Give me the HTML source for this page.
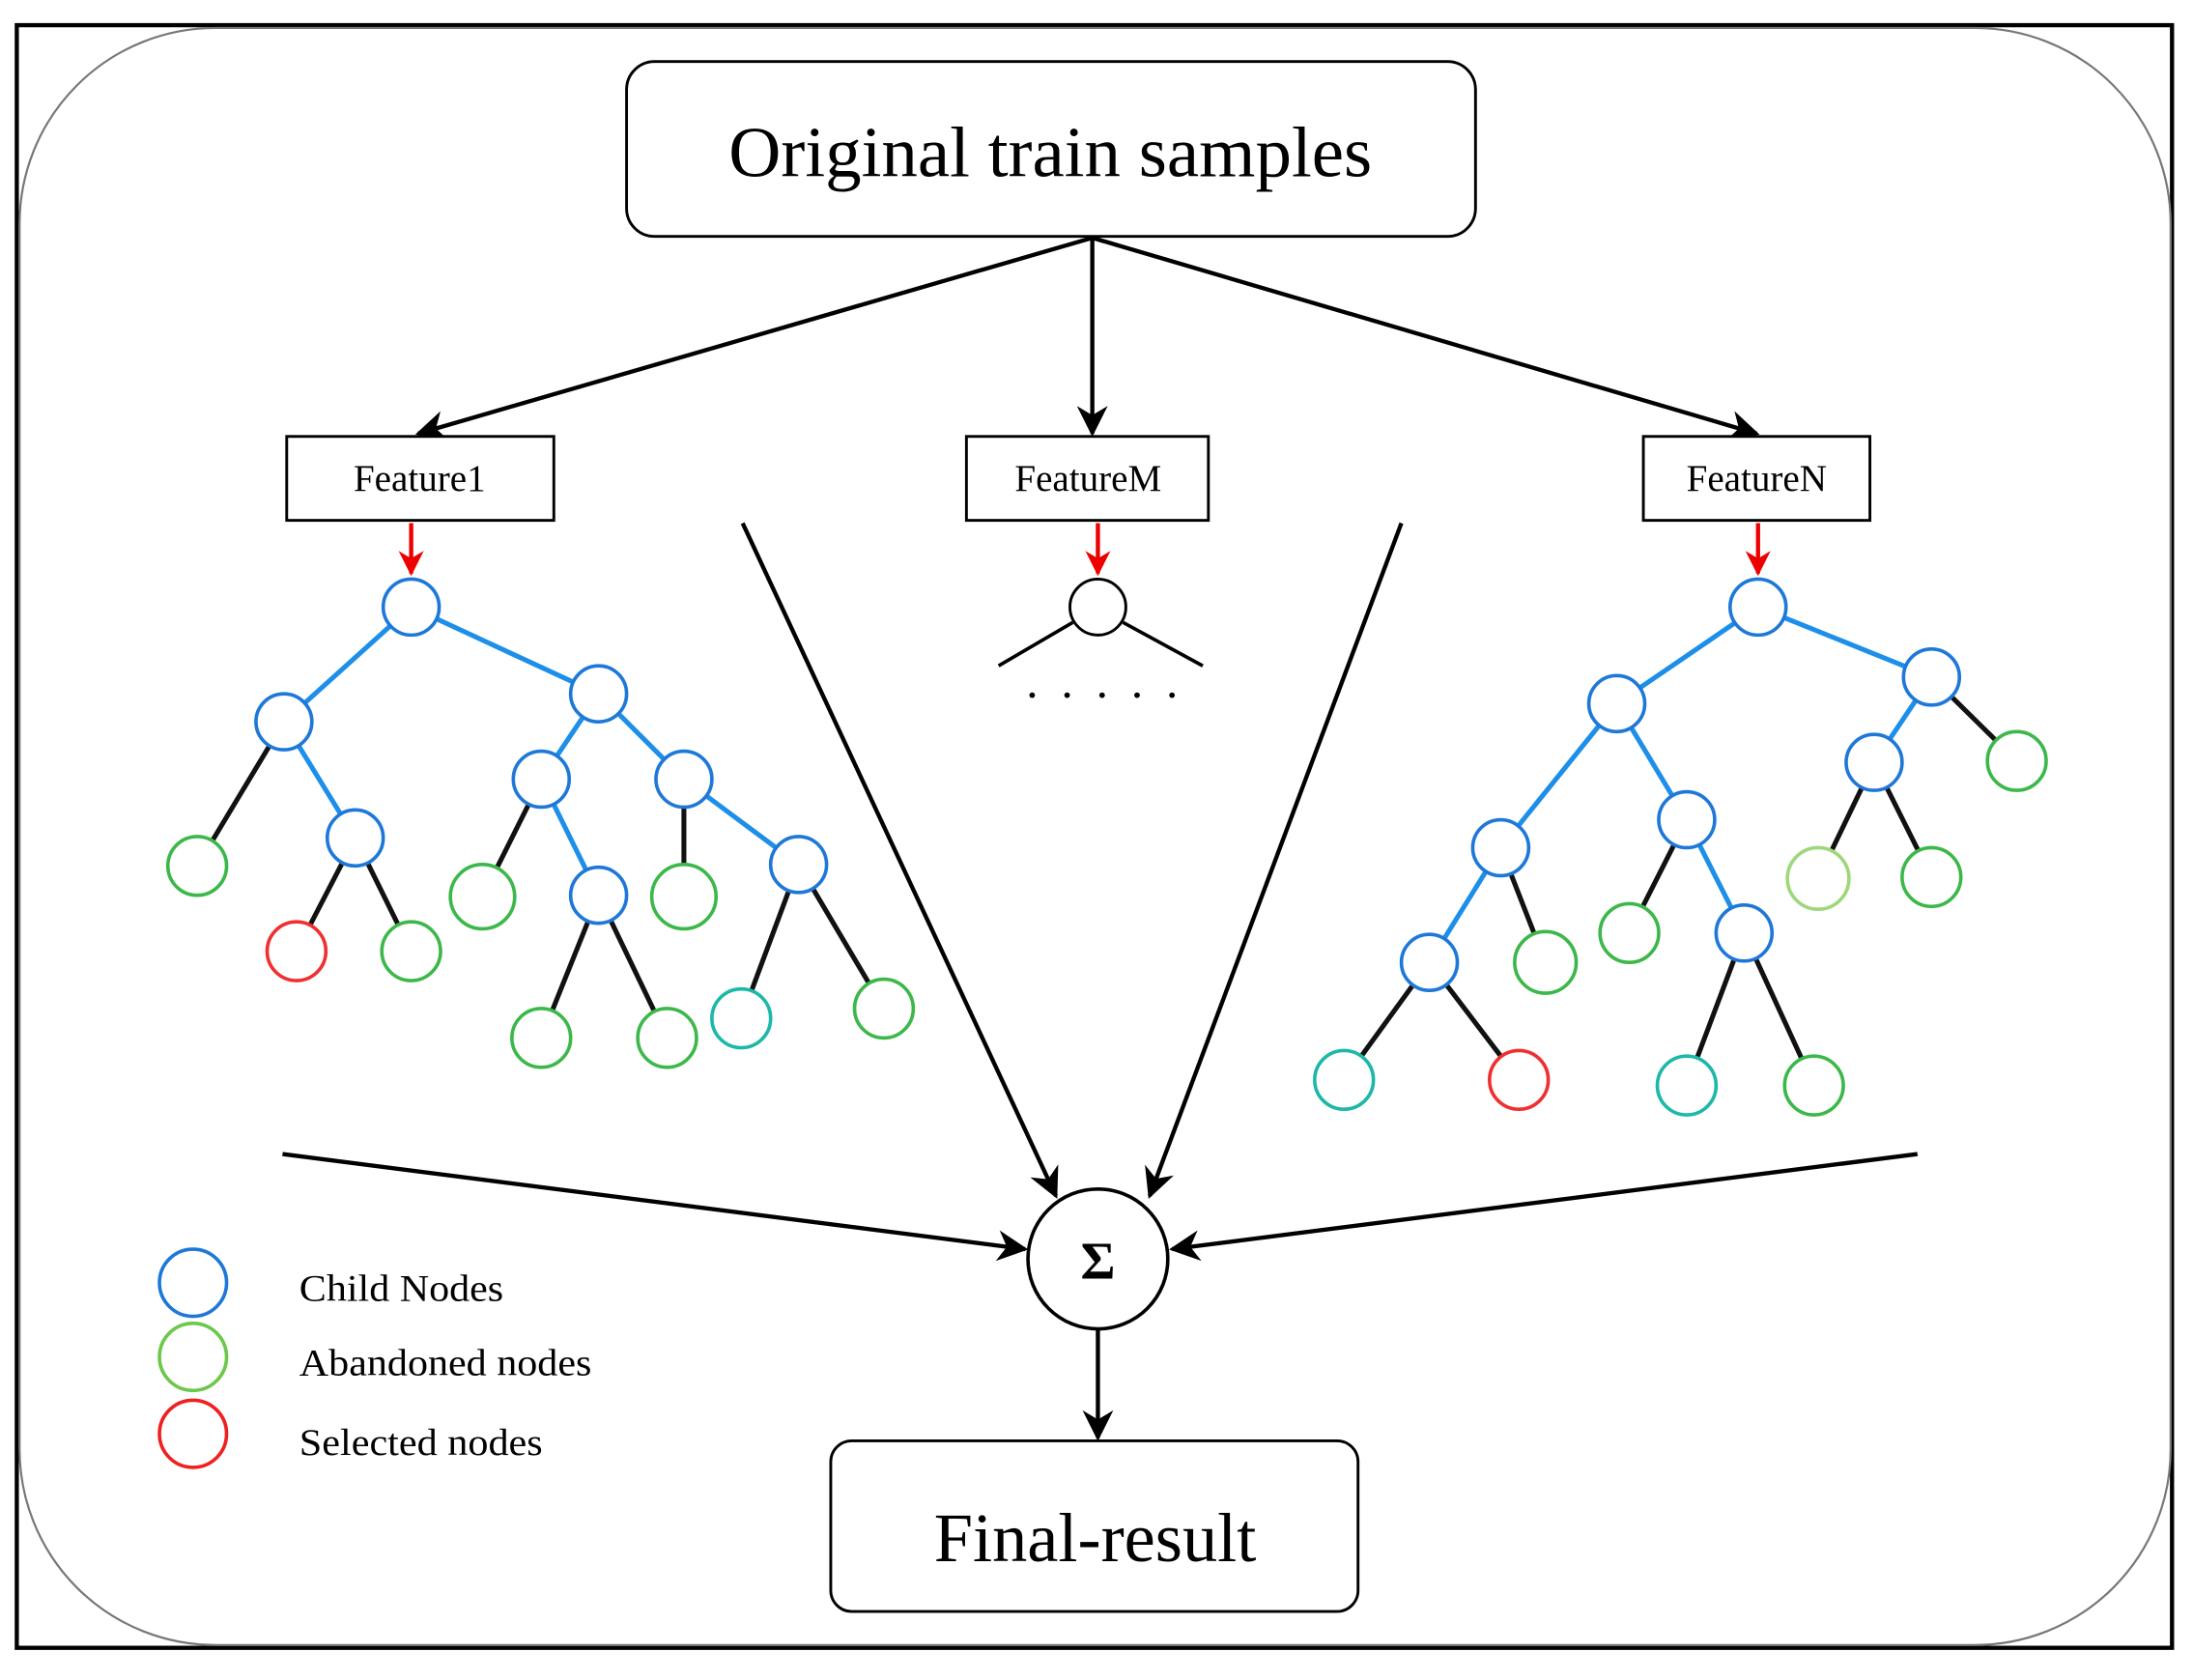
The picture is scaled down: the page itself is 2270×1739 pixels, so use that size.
<!DOCTYPE html>
<html><head><meta charset="utf-8"><style>html,body{margin:0;padding:0;background:#fff}svg{display:block}</style></head>
<body>
<svg width="2270" height="1739" viewBox="0 0 1568 1201" preserveAspectRatio="none" xmlns="http://www.w3.org/2000/svg" font-family="Liberation Serif, serif">
<defs>
<marker id="r" viewBox="0 0 10 10" refX="9" refY="5" markerWidth="18" markerHeight="18" orient="auto" markerUnits="userSpaceOnUse"><path d="M0,0 L10,5 L0,10 L3,5 z" fill="#e00"/></marker>
<marker id="b" viewBox="0 0 10 10" refX="9" refY="5" markerWidth="22" markerHeight="22" orient="auto" markerUnits="userSpaceOnUse"><path d="M0,0 L10,5 L0,10 L3,5 z" fill="#000"/></marker>
</defs>
<rect x="12" y="18" width="1541" height="1160" fill="#fff" stroke="#000" stroke-width="3"/>
<rect x="14" y="20" width="1538" height="1156" rx="140" fill="#fff" stroke="#777" stroke-width="1.5"/>
<rect x="448" y="44" width="607" height="125" rx="20" fill="#fff" stroke="#000" stroke-width="2"/>
<text x="751" y="126" font-size="51" text-anchor="middle" textLength="460" lengthAdjust="spacingAndGlyphs">Original train samples</text>
<g stroke="#000" stroke-width="3" fill="none" marker-end="url(#b)">
<line x1="781" y1="170" x2="299" y2="310"/>
<line x1="781" y1="170" x2="781" y2="310"/>
<line x1="781" y1="170" x2="1256" y2="310"/>
<line x1="531" y1="374" x2="755" y2="855"/>
<line x1="1002" y1="374" x2="822" y2="855"/>
<line x1="202" y1="825" x2="733" y2="893"/>
<line x1="1371" y1="825" x2="838" y2="893"/>
<line x1="785" y1="950" x2="785" y2="1028"/>
</g>
<g fill="#fff" stroke="#000" stroke-width="2">
<rect x="205" y="312" width="191" height="60"/><rect x="691" y="312" width="173" height="60"/><rect x="1175" y="312" width="162" height="60"/>
</g>
<g font-size="27" text-anchor="middle"><text x="300" y="351">Feature1</text><text x="778" y="351">FeatureM</text><text x="1256" y="351">FeatureN</text></g>
<g stroke="#e00" stroke-width="3" marker-end="url(#r)"><line x1="294" y1="374" x2="294" y2="410"/><line x1="785" y1="374" x2="785" y2="410"/><line x1="1257" y1="374" x2="1257" y2="410"/></g>
<g stroke-width="3.5" fill="none">
<g stroke="#1e8fe8"><path d="M294,434L203,516M294,434L428,496M203,516L254,599M428,496L387,557M428,496L489,557M387,557L428,640M489,557L571,618"/>
<path d="M1257,434L1156,503M1257,434L1381,484M1381,484L1340,545M1156,503L1073,606M1156,503L1206,586M1073,606L1022,688M1206,586L1247,667"/></g>
<g stroke="#111"><path d="M203,516L141,619M254,599L212,680M254,599L294,680M387,557L345,641M428,640L387,742M428,640L477,742M489,557L489,641M571,618L530,728M571,618L632,721"/>
<path d="M1381,484L1442,544M1340,545L1300,628M1340,545L1381,627M1073,606L1105,688M1022,688L961,772M1022,688L1086,772M1206,586L1165,667M1247,667L1206,776M1247,667L1297,776"/></g>
</g>
<g fill="#fff" stroke-width="2.5">
<g stroke="#1e78d8"><circle cx="294" cy="434" r="20"/><circle cx="203" cy="516" r="20"/><circle cx="428" cy="496" r="20"/><circle cx="254" cy="599" r="20"/><circle cx="387" cy="557" r="20"/><circle cx="489" cy="557" r="20"/><circle cx="428" cy="640" r="20"/><circle cx="571" cy="618" r="20"/>
<circle cx="1257" cy="434" r="20"/><circle cx="1156" cy="503" r="20"/><circle cx="1381" cy="484" r="20"/><circle cx="1340" cy="545" r="20"/><circle cx="1073" cy="606" r="20"/><circle cx="1206" cy="586" r="20"/><circle cx="1022" cy="688" r="20"/><circle cx="1247" cy="667" r="20"/></g>
<g stroke="#3cb84a"><circle cx="141" cy="619" r="21"/><circle cx="294" cy="680" r="21"/><circle cx="345" cy="641" r="23"/><circle cx="387" cy="742" r="21"/><circle cx="477" cy="742" r="21"/><circle cx="489" cy="641" r="23"/><circle cx="632" cy="721" r="21"/>
<circle cx="1442" cy="544" r="21"/><circle cx="1381" cy="627" r="21"/><circle cx="1105" cy="688" r="22"/><circle cx="1165" cy="667" r="21"/><circle cx="1297" cy="776" r="21"/></g>
<g stroke="#9ed87a"><circle cx="1300" cy="628" r="22"/></g>
<g stroke="#1cb8a8"><circle cx="530" cy="728" r="21"/><circle cx="961" cy="772" r="21"/><circle cx="1206" cy="776" r="21"/></g>
<g stroke="#f03030"><circle cx="212" cy="680" r="21"/><circle cx="1086" cy="772" r="21"/></g>
</g>
<path d="M767,445L714,476M803,445L860,476" stroke="#000" stroke-width="2.5"/>
<circle cx="785" cy="434" r="20" fill="#fff" stroke="#000" stroke-width="2"/>
<g fill="#000"><circle cx="738" cy="497" r="2"/><circle cx="763" cy="497" r="2"/><circle cx="788" cy="497" r="2"/><circle cx="813" cy="497" r="2"/><circle cx="838" cy="497" r="2"/></g>
<circle cx="785" cy="900" r="50" fill="#fff" stroke="#000" stroke-width="2.5"/>
<text x="785" y="914" font-size="38" text-anchor="middle" font-weight="bold">Σ</text>
<rect x="594" y="1030" width="377" height="122" rx="15" fill="#fff" stroke="#000" stroke-width="2"/>
<text x="783" y="1116" font-size="50" text-anchor="middle">Final-result</text>
<g fill="none" stroke-width="2.5"><circle cx="138" cy="917" r="24" stroke="#1e78d8"/><circle cx="138" cy="970" r="24" stroke="#6cc84a"/><circle cx="138" cy="1025" r="24" stroke="#f02020"/></g>
<g font-size="27"><text x="214" y="930" textLength="146" lengthAdjust="spacingAndGlyphs">Child Nodes</text><text x="214" y="983" textLength="209" lengthAdjust="spacingAndGlyphs">Abandoned nodes</text><text x="214" y="1040" textLength="174" lengthAdjust="spacingAndGlyphs">Selected nodes</text></g>
</svg>
</body></html>
